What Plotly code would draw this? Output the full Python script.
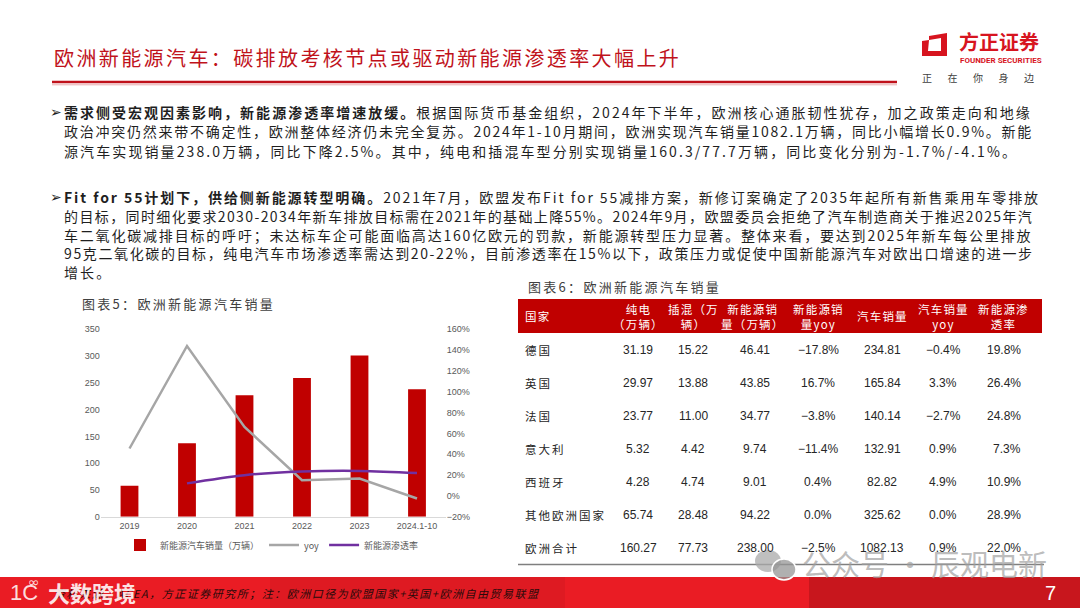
import re
import plotly.graph_objects as go

W, H = 1080, 608
def px(x): return x / W
def py(y): return 1 - y / H

# ---------------- chart data (图表5) ----------------
years = ["2019", "2020", "2021", "2022", "2023", "2024.1-10"]
nev_sales = [58, 137, 227, 259, 301, 238]          # 万辆
nev_yoy = [0.455, 1.44, 0.663, 0.15, 0.167, -0.025]
nev_share = [None, 0.12, 0.199, 0.234, 0.24, 0.22]

# ---------------- table data (图表6) ----------------
countries = ["德国", "英国", "法国", "意大利", "西班牙", "其他欧洲国家", "欧洲合计"]
bev = [31.19, 29.97, 23.77, 5.32, 4.28, 65.74, 160.27]
phev = [15.22, 13.88, 11.00, 4.42, 4.74, 28.48, 77.73]
nev_total = [46.41, 43.85, 34.77, 9.74, 9.01, 94.22, 238.00]
nev_total_yoy = [-17.8, 16.7, -3.8, -11.4, 0.4, 0.0, -2.5]
car_sales = [234.81, 165.84, 140.14, 132.91, 82.82, 325.62, 1082.13]
car_yoy = [-0.4, 3.3, -2.7, 0.9, 4.9, 0.0, 0.9]
nev_pen = [19.8, 26.4, 24.8, 7.3, 10.9, 28.9, 22.0]
headers = ["国家", "纯电<br>（万辆）", "插混（万<br>辆）", "新能源销<br>量（万辆）",
           "新能源销<br>量yoy", "汽车销量", "汽车销量<br>yoy", "新能源渗<br>透率"]

title = "欧洲新能源汽车：碳排放考核节点或驱动新能源渗透率大幅上升"
para1 = [
    "<b>需求侧受宏观因素影响，新能源渗透率增速放缓。</b>根据国际货币基金组织，2024年下半年，欧洲核心通胀韧性犹存，加之政策走向和地缘",
    "政治冲突仍然来带不确定性，欧洲整体经济仍未完全复苏。2024年1-10月期间，欧洲实现汽车销量1082.1万辆，同比小幅增长0.9%。新能",
    "源汽车实现销量238.0万辆，同比下降2.5%。其中，纯电和插混车型分别实现销量160.3/77.7万辆，同比变化分别为-1.7%/-4.1%。",
]
para2 = [
    "<b>Fit for 55计划下，供给侧新能源转型明确。</b>2021年7月，欧盟发布Fit for 55减排方案，新修订案确定了2035年起所有新售乘用车零排放",
    "的目标，同时细化要求2030-2034年新车排放目标需在2021年的基础上降55%。2024年9月，欧盟委员会拒绝了汽车制造商关于推迟2025年汽",
    "车二氧化碳减排目标的呼吁；未达标车企可能面临高达160亿欧元的罚款，新能源转型压力显著。整体来看，要达到2025年新车每公里排放",
    "95克二氧化碳的目标，纯电汽车市场渗透率需达到20-22%，目前渗透率在15%以下，政策压力或促使中国新能源汽车对欧出口增速的进一步",
    "增长。",
]
para1_just = [True, True, False]
para2_just = [True, True, True, True, False]

CJK = "Noto Sans CJK SC"
RED = "#C0121B"

def ls(text, s):
    return f"<span style='letter-spacing:{s:.2f}px'>{text}</span>"

ASCII_EM = {c: 0.555 for c in "0123456789"}
ASCII_EM.update({".": 0.27, "%": 0.86, "-": 0.34, "/": 0.34, " ": 0.22, "F": 0.55, "i": 0.24,
                 "t": 0.35, "f": 0.32, "o": 0.57, "r": 0.36})

def plain(t):
    return re.sub(r"<[^>]+>", "", t)

def est_width(t, size):
    return sum(size if ord(c) > 0x2E80 else ASCII_EM.get(c, 0.55) * size for c in plain(t))

def spacing_for(t, size, target):
    n = len(plain(t))
    return (target - est_width(t, size)) / n

fig = go.Figure()

fig.add_trace(go.Bar(x=years, y=nev_sales, name="新能源汽车销量（万辆）",
                     marker=dict(color="#C00000", line=dict(width=0)), width=0.31))
fig.add_trace(go.Scatter(x=years, y=nev_yoy, name="yoy", yaxis="y2", mode="lines",
                         line=dict(color="#A6A6A6", width=2.5)))
fig.add_trace(go.Scatter(x=years, y=nev_share, name="新能源渗透率", yaxis="y2", mode="lines",
                         line=dict(color="#7030A0", width=2.5, shape="spline")))

tickfont = dict(family="Liberation Sans", size=9, color="#595959")
fig.update_layout(
    width=W, height=H, margin=dict(l=0, r=0, t=0, b=0, autoexpand=False),
    paper_bgcolor="white", plot_bgcolor="white", showlegend=True,
    xaxis=dict(domain=[px(100.75), px(445.75)], anchor="y", showline=True, linecolor="#D9D9D9",
               linewidth=1, ticks="", tickfont=tickfont, showgrid=False, fixedrange=True),
    yaxis=dict(domain=[py(516.7), py(329.3)], range=[0, 350], dtick=50, showgrid=False,
               zeroline=False, showline=False, tickfont=tickfont, ticks=""),
    yaxis2=dict(domain=[py(516.7), py(329.3)], range=[-0.2, 1.6], dtick=0.2, tickformat=".0%",
                overlaying="y", side="right", anchor="x", showgrid=False, zeroline=False,
                showline=False, tickfont=tickfont, ticks=""),
    legend=dict(orientation="h", x=px(272), xanchor="center", y=py(545), yanchor="middle",
                font=dict(family=CJK, size=9, color="#595959"), bgcolor="rgba(0,0,0,0)",
                itemwidth=30, tracegroupgap=0),
    font=dict(family=CJK),
)

ann = []
shapes = []

# title & header decoration
ann.append(dict(x=px(52), y=py(57), xref="paper", yref="paper", xanchor="left", yanchor="middle",
                text=ls(title, 2.4), showarrow=False, font=dict(family=CJK, size=20, color=RED)))
shapes.append(dict(type="line", xref="paper", yref="paper", x0=px(52), x1=px(897), y0=py(82), y1=py(82),
                   line=dict(color=RED, width=2.5)))
shapes.append(dict(type="line", xref="paper", yref="paper", x0=px(52), x1=px(897), y0=py(84.8), y1=py(84.8),
                   line=dict(color="rgba(192,18,27,0.35)", width=1)))

# logo
def path(pts):
    return "M " + " L ".join(f"{px(a):.5f},{py(b):.5f}" for a, b in pts) + " Z"
shapes.append(dict(type="path", xref="paper", yref="paper", fillcolor="#D7141F", line=dict(width=0),
                   path=path([(929, 36), (947, 33), (947, 56), (922, 56), (922, 41), (929, 40)])))
shapes.append(dict(type="path", xref="paper", yref="paper", fillcolor="white", line=dict(width=0),
                   path=path([(929, 40), (941, 38), (941, 51), (928, 51)])))
ann.append(dict(x=px(957), y=py(41), xref="paper", yref="paper", xanchor="left", yanchor="middle",
                text="<b>方正证券</b>", showarrow=False, font=dict(family=CJK, size=20, color="#D7141F")))
ann.append(dict(x=px(958), y=py(61), xref="paper", yref="paper", xanchor="left", yanchor="middle",
                text="<b>FOUNDER SECURITIES</b>", showarrow=False,
                font=dict(family="Roboto", size=8, color="#D7141F")))
ann.append(dict(x=px(920), y=py(77), xref="paper", yref="paper", xanchor="left", yanchor="middle",
                text=ls("正在你身边", 15.5), showarrow=False, font=dict(family=CJK, size=10, color="#404040")))

# body text
BODY = 14
def add_para(lines, just, y0, step):
    ann.append(dict(x=px(48), y=py(y0), xref="paper", yref="paper", xanchor="left", yanchor="middle",
                    text="➢", showarrow=False, font=dict(family="DejaVu Sans", size=14, color="#1F1F1F")))
    for i, t in enumerate(lines):
        s = spacing_for(t, BODY, 968) if just[i] else 2.1
        ann.append(dict(x=px(62), y=py(y0 + i * step), xref="paper", yref="paper", xanchor="left",
                        yanchor="middle", text=ls(t, s), showarrow=False,
                        font=dict(family=CJK, size=BODY, color="#1F1F1F")))
add_para(para1, para1_just, 112, 19.3)
add_para(para2, para2_just, 197, 18.8)

# chart captions
ann.append(dict(x=px(80), y=py(303), xref="paper", yref="paper", xanchor="left", yanchor="middle",
                text=ls("图表5：欧洲新能源汽车销量", 2.3), showarrow=False,
                font=dict(family=CJK, size=13, color="#404040")))
ann.append(dict(x=px(526), y=py(286), xref="paper", yref="paper", xanchor="left", yanchor="middle",
                text=ls("图表6：欧洲新能源汽车销量", 2.3), showarrow=False,
                font=dict(family=CJK, size=13, color="#404040")))

# table
shapes.append(dict(type="rect", xref="paper", yref="paper", x0=px(518), x1=px(1042), y0=py(333), y1=py(299),
                   fillcolor="#C00000", line=dict(width=0)))
col_x = [523, 638, 693, 755, 818, 882, 943, 1023]
col_anchor = ["left", "center", "center", "center", "center", "center", "center", "right"]
head_x = [523, 638, 693, 753, 818, 882, 943, 1003]
for j, h in enumerate(headers):
    ann.append(dict(x=px(head_x[j]), y=py(316), xref="paper", yref="paper",
                    xanchor="left" if j == 0 else "center", yanchor="middle",
                    text=ls(h, 1.2), showarrow=False, align="center",
                    font=dict(family=CJK, size=11.5, color="white")))
def pct(v):
    return f"{v:.1f}%".replace("-", "−")
row_y = [350, 383, 416, 449, 482, 515, 548]
for i, c in enumerate(countries):
    vals = [c, f"{bev[i]:.2f}", f"{phev[i]:.2f}", f"{nev_total[i]:.2f}", pct(nev_total_yoy[i]),
            f"{car_sales[i]:.2f}", pct(car_yoy[i]), pct(nev_pen[i])]
    for j, v in enumerate(vals):
        if j == 0:
            txt, fnt = ls(v, 2.0), dict(family=CJK, size=11.5, color="#262626")
        else:
            txt, fnt = v, dict(family="Liberation Sans", size=12, color="#262626")
        ann.append(dict(x=px(col_x[j]), y=py(row_y[i]), xref="paper", yref="paper",
                        xanchor=col_anchor[j], yanchor="middle", text=txt, showarrow=False, font=fnt))
shapes.append(dict(type="line", xref="paper", yref="paper", x0=px(518), x1=px(1044), y0=py(564.5), y1=py(564.5),
                   line=dict(color="#7F7F7F", width=1.5)))

# watermark (公众号)
shapes.append(dict(type="circle", xref="paper", yref="paper", x0=px(755), x1=px(781), y0=py(572), y1=py(550),
                   fillcolor="rgba(170,170,170,0.75)", line=dict(width=0)))
shapes.append(dict(type="circle", xref="paper", yref="paper", x0=px(772), x1=px(796), y0=py(580), y1=py(559),
                   fillcolor="rgba(150,150,150,0.75)", line=dict(color="white", width=1.5)))
ann.append(dict(x=px(800), y=py(563), xref="paper", yref="paper", xanchor="left", yanchor="middle",
                text="公众号 · 辰观电新", showarrow=False,
                font=dict(family=CJK, size=29, color="rgba(160,160,160,0.7)")))

# footer band
shapes.append(dict(type="rect", xref="paper", yref="paper", x0=0, x1=1, y0=0, y1=py(577),
                   fillcolor="#EA1C24", line=dict(width=0), layer="below"))
shapes.append(dict(type="rect", xref="paper", yref="paper", x0=px(270), x1=px(565), y0=0, y1=py(577),
                   fillcolor="#DE1A22", line=dict(width=0), layer="below"))
shapes.append(dict(type="rect", xref="paper", yref="paper", x0=px(809), x1=1, y0=0, y1=py(577),
                   fillcolor="#C8161D", line=dict(width=0), layer="below"))
ann.append(dict(x=px(52), y=py(593), xref="paper", yref="paper", xanchor="left", yanchor="middle",
                text="<i>" + ls("资料来源：ACEA，方正证券研究所；注：欧洲口径为欧盟国家+英国+欧洲自由贸易联盟", 1.5) + "</i>",
                showarrow=False, font=dict(family=CJK, size=11, color="#2A0A0A")))
ann.append(dict(x=px(1050), y=py(593), xref="paper", yref="paper", xanchor="center", yanchor="middle",
                text="7", showarrow=False, font=dict(family="Liberation Sans", size=20, color="white")))
# watermark (大数跨境)
ann.append(dict(x=px(8), y=py(592), xref="paper", yref="paper", xanchor="left", yanchor="middle",
                text="1C", showarrow=False, font=dict(family="Liberation Sans", size=22, color="rgba(255,255,255,0.85)")))
ann.append(dict(x=px(26), y=py(582), xref="paper", yref="paper", xanchor="left", yanchor="middle",
                text="∞", showarrow=False, font=dict(family="DejaVu Sans", size=14, color="rgba(255,255,255,0.85)")))
ann.append(dict(x=px(46), y=py(592), xref="paper", yref="paper", xanchor="left", yanchor="middle",
                text="<b>大数跨境</b>", showarrow=False, font=dict(family=CJK, size=22, color="rgba(255,255,255,0.88)")))

fig.update_layout(annotations=ann, shapes=shapes)
fig.write_html("out.html", config={"displayModeBar": False},
               post_script="document.body.style.margin='0';document.body.style.overflow='hidden';")
